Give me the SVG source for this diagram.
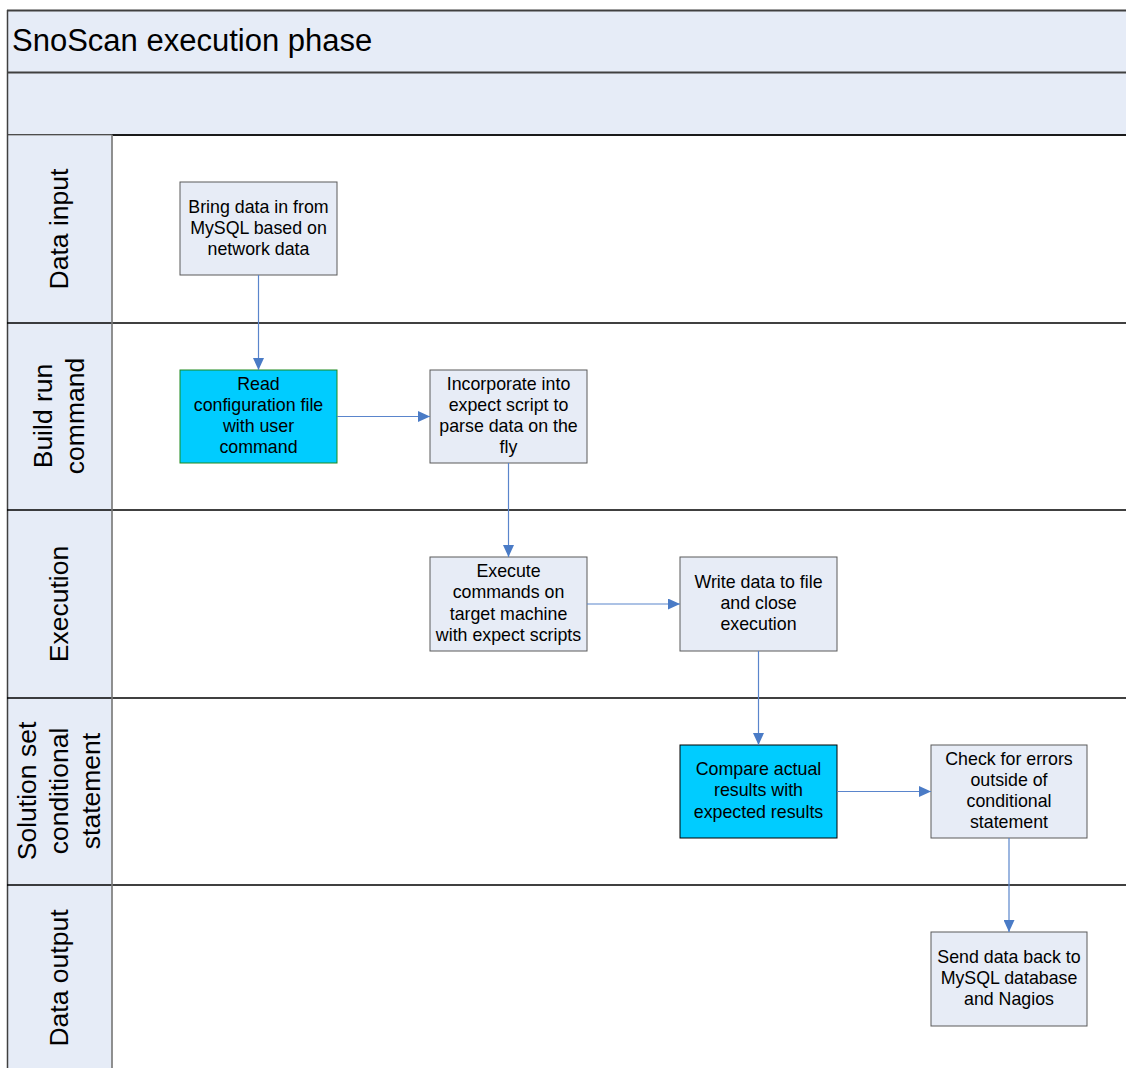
<svg xmlns="http://www.w3.org/2000/svg" width="1126" height="1068" viewBox="0 0 1126 1068">
<style>
.band{fill:#E6ECF7;}
.hdr{fill:#E6ECF7;stroke:#808080;stroke-width:1;}
.sep{stroke:#000;stroke-width:1.3;fill:none;}
.box{fill:#E7ECF6;stroke:#5A5A5A;stroke-width:1;}
.hot{fill:#00CCFF;stroke:#000;stroke-width:1;}
.txt{font-family:"Liberation Sans",Arial,sans-serif;font-size:17.8px;fill:#000;text-anchor:middle;}
.lt{font-family:"Liberation Sans",Arial,sans-serif;font-size:26.5px;fill:#000;text-anchor:middle;}
.title{font-family:"Liberation Sans",Arial,sans-serif;font-size:31px;fill:#000;}
.con{stroke:#5A85CC;stroke-width:1.2;fill:none;marker-end:url(#arr);}
</style>
<defs>
<marker id="arr" viewBox="0 0 12 11" refX="12" refY="5.5" markerWidth="12" markerHeight="11" markerUnits="userSpaceOnUse" orient="auto">
<path d="M0,0 L12,5.5 L0,11 z" fill="#4A7BC6"/>
</marker>
</defs>
<rect x="0" y="0" width="1126" height="1068" fill="#fff"/>
<g id="pool">
<rect class="band" x="7" y="10" width="1125" height="125"/>
<line x1="7" y1="10.5" x2="1126" y2="10.5" stroke="#404040" stroke-width="2"/>
<line x1="7" y1="72.5" x2="1126" y2="72.5" stroke="#404040" stroke-width="2"/>
<line x1="7" y1="135" x2="1126" y2="135" stroke="#1a1a1a" stroke-width="2"/>
<text class="title" x="12" y="51">SnoScan execution phase</text>
<rect class="hdr" x="7.5" y="135" width="104.5" height="940"/>
<line x1="7.5" y1="10" x2="7.5" y2="1068" stroke="#404040" stroke-width="1.5"/>
<line class="sep" x1="7" y1="323" x2="1126" y2="323"/>
<line class="sep" x1="7" y1="510" x2="1126" y2="510"/>
<line class="sep" x1="7" y1="698" x2="1126" y2="698"/>
<line class="sep" x1="7" y1="885" x2="1126" y2="885"/>
<line x1="112" y1="135" x2="112" y2="1068" stroke="#808080" stroke-width="1.5"/>
</g>
<g id="lane-data-input"><text class="lt" transform="translate(68,229) rotate(-90)">Data input</text></g>
<g id="lane-build"><text class="lt" transform="translate(52,416) rotate(-90)"><tspan x="0" y="0">Build run</tspan><tspan x="0" y="32">command</tspan></text></g>
<g id="lane-execution"><text class="lt" transform="translate(68,604) rotate(-90)">Execution</text></g>
<g id="lane-solution"><text class="lt" transform="translate(36,791) rotate(-90)"><tspan x="0" y="0">Solution set</tspan><tspan x="0" y="32">conditional</tspan><tspan x="0" y="64">statement</tspan></text></g>
<g id="lane-output"><text class="lt" transform="translate(68,978) rotate(-90)">Data output</text></g>

<g id="n1"><rect class="box" x="180" y="182" width="157" height="93"/>
<text class="txt"><tspan x="258.5" y="213">Bring data in from</tspan><tspan x="258.5" y="234">MySQL based on</tspan><tspan x="258.5" y="255">network data</tspan></text></g>
<g id="n2"><rect class="hot" x="180" y="370" width="157" height="93" style="stroke:#1E8A1E"/>
<text class="txt"><tspan x="258.5" y="390">Read</tspan><tspan x="258.5" y="411">configuration file</tspan><tspan x="258.5" y="432">with user</tspan><tspan x="258.5" y="453">command</tspan></text></g>
<g id="n3"><rect class="box" x="430" y="370" width="157" height="93"/>
<text class="txt"><tspan x="508.5" y="390">Incorporate into</tspan><tspan x="508.5" y="411">expect script to</tspan><tspan x="508.5" y="432">parse data on the</tspan><tspan x="508.5" y="453">fly</tspan></text></g>
<g id="n4"><rect class="box" x="430" y="557" width="157" height="94"/>
<text class="txt"><tspan x="508.5" y="577">Execute</tspan><tspan x="508.5" y="598">commands on</tspan><tspan x="508.5" y="620">target machine</tspan><tspan x="508.5" y="641">with expect scripts</tspan></text></g>
<g id="n5"><rect class="box" x="680" y="557" width="157" height="94"/>
<text class="txt"><tspan x="758.5" y="588">Write data to file</tspan><tspan x="758.5" y="609">and close</tspan><tspan x="758.5" y="630">execution</tspan></text></g>
<g id="n6"><rect class="hot" x="680" y="745" width="157" height="93"/>
<text class="txt"><tspan x="758.5" y="775">Compare actual</tspan><tspan x="758.5" y="796">results with</tspan><tspan x="758.5" y="818">expected results</tspan></text></g>
<g id="n7"><rect class="box" x="931" y="745" width="156" height="93"/>
<text class="txt"><tspan x="1009" y="765">Check for errors</tspan><tspan x="1009" y="786">outside of</tspan><tspan x="1009" y="807">conditional</tspan><tspan x="1009" y="828">statement</tspan></text></g>
<g id="n8"><rect class="box" x="931" y="932" width="156" height="94"/>
<text class="txt"><tspan x="1009" y="963">Send data back to</tspan><tspan x="1009" y="984">MySQL database</tspan><tspan x="1009" y="1005">and Nagios</tspan></text></g>

<g id="connectors">
<line class="con" x1="258.5" y1="275" x2="258.5" y2="370"/>
<line class="con" x1="337" y1="416.5" x2="430" y2="416.5"/>
<line class="con" x1="508.5" y1="463" x2="508.5" y2="557"/>
<line class="con" x1="587" y1="604" x2="680" y2="604"/>
<line class="con" x1="758.5" y1="651" x2="758.5" y2="745"/>
<line class="con" x1="837" y1="791.5" x2="931" y2="791.5"/>
<line class="con" x1="1009" y1="838" x2="1009" y2="932"/>
</g>
</svg>
